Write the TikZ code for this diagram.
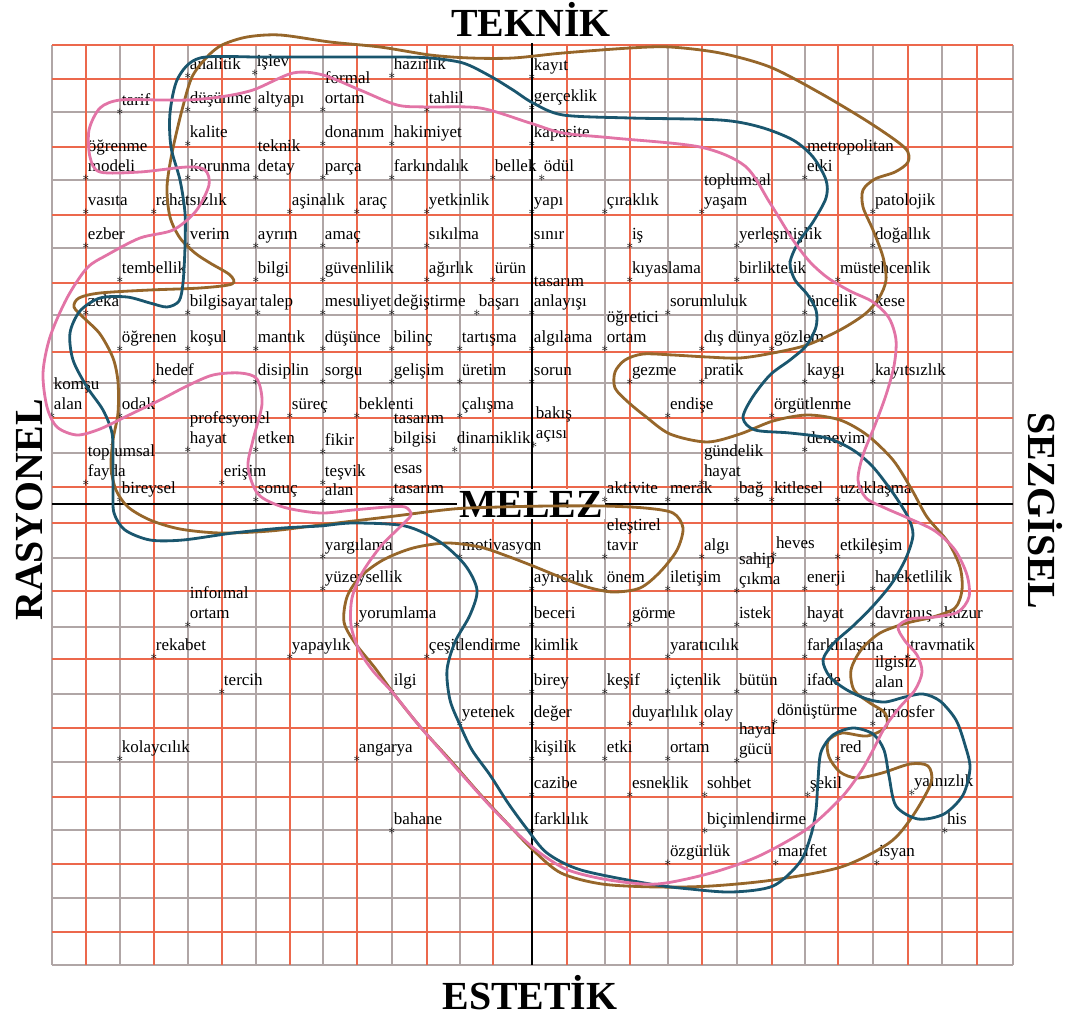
\documentclass[tikz,border=0pt]{standalone}
\usepackage{fontspec}
\setmainfont{Liberation Serif}
\usepackage{tikz}
\definecolor{brownline}{RGB}{150,102,42}
\definecolor{tealline}{RGB}{26,86,110}
\definecolor{pinkline}{RGB}{226,116,166}
\definecolor{gridred}{RGB}{236,104,76}
\definecolor{gridgray}{RGB}{176,166,166}

\begin{document}
\begin{tikzpicture}[x=0.03cm, y=-0.03cm,
		gg/.style={gridgray, line width=1pt},
		gr/.style={gridred, line width=0.9pt},
		axis/.style={black, line width=2.2pt},
		bc/.style={brownline, line width=2.4pt},
		tc/.style={tealline, line width=2.4pt},
		pc/.style={pinkline, line width=2.4pt},
		astk/.style={inner sep=0pt, font=\fontsize{12}{12}\selectfont},
		wd/.style={anchor=south west, inner sep=0pt, xshift=1.5pt, align=left, font=\fontsize{14.5}{17}\selectfont},
		pole/.style={font=\fontsize{34}{40}\selectfont\bfseries, inner sep=0pt}]
		
		\useasboundingbox (0,0) rectangle (1067,1017);
		
		\foreach \gx in {52,120,188,256,323,392,460,532,605,668,737,805,873,942,1013}
		\draw[gg] (\gx,45) -- (\gx,965);
		\foreach \gy in {45,112,180,248,315,383,453,558,627,694,762,830,898,965}
		\draw[gg] (52,\gy) -- (1013,\gy);
		\foreach \gx in {86,154,222,290,357,427,493,567,630,702,772,838,908,977}
		\draw[gr] (\gx,45) -- (\gx,965);
		\foreach \gy in {45,79,147,215,283,352,418,487,523,591,659,728,797,864,932}
		\draw[gr] (52,\gy) -- (1013,\gy);
		
		\coordinate (top) at (532,43);
		\coordinate (bot) at (532,965);
		\coordinate (lft) at (52,504);
		\coordinate (rgt) at (1013,504);
		\draw[axis] (top) -- (bot);
		\draw[axis] (lft) -- (rgt);
		
		\node[pole, anchor=base] (tek) at (531,37) {TEKNİK};
		\node[pole, anchor=base] (est) at (530,1009) {ESTETİK};
		\node[pole, anchor=base, rotate=90] (ras) at (42,510) {RASYONEL};
		\node[pole, anchor=base, rotate=-90] (sez) at (1028,511) {SEZGİSEL};
		\node[pole, anchor=base, fill=white, inner sep=2pt] (mel) at (531,517) {MELEZ};
		
		\foreach \x/\y/\lbl [count=\i] in {
			188/76/analitik, 255/73/işlev, 392/76/hazırlık, 532/77/kayıt,
			120/112/tarif, 188/110/düşünme, 256/110/altyapı, 323/110/formal\\ortam, 427/110/tahlil, 532/108/gerçeklik,
			188/144/kalite, 323/144/donanım, 392/144/hakimiyet, 532/144/kapasite,
			86/178/öğrenme\\modeli, 188/178/korunma, 256/178/teknik\\detay, 323/178/parça, 392/178/farkındalık, 493/178/bellek, 542/178/ödül, 805/178/metropolitan\\etki,
			86/212/vasıta, 154/212/rahatsızlık, 290/212/aşinalık, 357/212/araç, 427/212/yetkinlik, 532/212/yapı, 605/212/çıraklık, 702/212/toplumsal\\yaşam, 873/212/patolojik,
			86/246/ezber, 188/246/verim, 256/246/ayrım, 323/246/amaç, 427/246/sıkılma, 532/246/sınır, 630/246/iş, 737/246/yerleşmişlik, 873/246/doğallık,
			120/280/tembellik, 256/280/bilgi, 323/280/güvenlilik, 427/280/ağırlık, 493/280/ürün, 630/280/kıyaslama, 737/280/birliktelik, 838/280/müstehcenlik,
			86/313/zeka, 188/313/bilgisayar, 258/313/talep, 323/313/mesuliyet, 392/313/değiştirme, 477/313/başarı, 532/313/tasarım\\anlayışı, 668/313/sorumluluk, 805/313/öncelik, 873/313/kese,
			120/349/öğrenen, 188/349/koşul, 256/349/mantık, 323/349/düşünce, 392/349/bilinç, 460/349/tartışma, 532/349/algılama, 605/349/öğretici\\ortam, 702/349/dış dünya, 772/349/gözlem,
			154/382/hedef, 256/382/disiplin, 323/382/sorgu, 392/382/gelişim, 460/382/üretim, 532/382/sorun, 630/382/gezme, 702/382/pratik, 805/382/kaygı, 873/382/kayıtsızlık,
			52/416/komşu\\alan, 120/416/odak, 290/416/süreç, 357/416/beklenti, 460/416/çalışma, 668/416/endişe, 772/416/örgütlenme,
			188/450/profesyonel\\hayat, 256/450/etken, 323/452/fikir, 392/450/tasarım\\bilgisi, 455/450/dinamiklik, 534/445/bakış\\açısı, 805/450/deneyim,
			86/483/toplumsal\\fayda, 222/483/erişim, 323/483/teşvik, 702/483/gündelik\\hayat,
			120/500/bireysel, 256/500/sonuç, 323/502/alan, 392/500/esas\\tasarım, 605/500/aktivite, 668/500/merak, 737/500/bağ, 772/500/kitlesel, 838/500/uzaklaşma,
			323/557/yargılama, 460/557/motivasyon, 605/557/eleştirel\\tavır, 702/557/algı, 774/555/heves, 838/557/etkileşim,
			323/589/yüzeysellik, 532/589/ayrıcalık, 605/589/önem, 668/589/iletişim, 737/591/sahip\\çıkma, 805/589/enerji, 873/589/hareketlilik,
			188/625/informal\\ortam, 357/625/yorumlama, 532/625/beceri, 630/625/görme, 737/625/istek, 805/625/hayat, 873/625/davranış, 942/625/huzur,
			154/657/rekabet, 290/657/yapaylık, 427/657/çeşitlendirme, 532/657/kimlik, 668/657/yaratıcılık, 805/657/farklılaşma, 908/657/travmatik,
			222/692/tercih, 392/692/ilgi, 532/692/birey, 605/692/keşif, 668/692/içtenlik, 737/692/bütün, 805/692/ifade, 873/694/ilgisiz\\alan,
			460/724/yetenek, 532/724/değer, 630/724/duyarlılık, 702/724/olay, 775/722/dönüştürme, 873/724/atmosfer,
			120/759/kolaycılık, 357/759/angarya, 532/759/kişilik, 605/759/etki, 668/759/ortam, 737/761/hayal\\gücü, 838/759/red,
			532/795/cazibe, 630/795/esneklik, 705/795/sohbet, 808/795/şekil, 912/793/yalnızlık,
			392/831/bahane, 532/831/farklılık, 705/831/biçimlendirme, 945/831/his,
			668/863/özgürlük, 776/863/marifet, 877/863/isyan}{
			\node[astk] (s\i) at (\x,\y) {$\ast$};
			\node[wd] (w\i) at (s\i) {\lbl\strut};
		}
		
		\draw[bc] plot[smooth cycle, tension=0.5] coordinates {
			(207,57)(222,45)(247,37)(280,35)(330,42)(380,47)(430,55)(470,58)
			(513,58)(563,53)(630,48)(670,47)(720,53)(770,67)(820,93)(870,123)
			(905,148)(908,162)(895,172)(875,179)(863,190)(863,207)(873,230)(883,257)
			(886,280)(879,298)(865,314)(840,330)(807,345)(773,353)(740,358)(707,357)
			(673,355)(643,354)(625,360)(615,372)(615,388)(628,402)(645,416)(670,434)
			(707,442)(740,434)(773,421)(807,415)(840,420)(867,435)(893,460)(912,490)
			(927,517)(948,542)(960,567)(962,590)(955,608)(933,617)(907,623)(880,633)
			(861,650)(851,670)(854,690)(870,703)(885,713)(886,727)(867,736)(842,733)
			(828,741)(829,757)(840,772)(857,778)(882,773)(910,764)(928,766)(931,783)
			(912,817)(889,843)(841,867)(773,880)(711,886)(657,887)(602,884)(561,873)
			(533,850)(506,822)(479,793)(452,762)(423,730)(397,698)(375,668)(355,643)
			(344,622)(347,597)(360,577)(383,560)(413,548)(447,543)(480,547)(507,556)
			(533,566)(560,577)(587,587)(613,592)(640,588)(660,572)(677,550)(683,528)
			(673,513)(645,508)(603,506)(550,506)(500,507)(453,509)(387,517)(320,525)
			(270,531)(220,533)(180,529)(150,520)(128,507)(116,490)(111,467)(113,440)
			(118,413)(118,382)(113,358)(100,334)(84,318)(74,307)(79,298)(100,293)
			(150,290)(200,288)(232,284)(230,275)(210,263)(195,253)(180,238)(170,217)
			(167,187)(172,153)(182,110)(192,77)
		};
		
		\draw[tc] plot[smooth cycle, tension=0.5] coordinates {
			(200,58)(260,57)(330,57)(397,57)(430,58)(463,63)(490,76)(513,90)
			(533,103)(563,115)(630,118)(720,120)(760,127)(793,140)(813,157)(826,180)
			(826,198)(813,222)(798,243)(790,263)(795,280)(807,294)(816,310)(816,327)
			(806,346)(790,360)(770,375)(752,398)(743,418)(755,430)(790,433)(827,438)
			(853,450)(873,467)(893,493)(908,517)(913,535)(906,558)(892,583)(873,606)
			(853,626)(834,643)(823,660)(830,677)(847,690)(867,699)(885,702)(905,697)
			(923,694)(940,701)(956,720)(965,745)(970,768)(963,795)(944,814)(918,819)
			(896,806)(889,776)(884,750)(873,734)(853,728)(833,735)(821,752)(818,780)
			(816,810)(811,835)(800,862)(773,886)(732,892)(690,889)(650,884)(581,870)
			(547,853)(527,829)(508,803)(490,775)(472,750)(460,725)(450,700)(447,670)
			(455,642)(470,615)(477,590)(465,565)(440,542)(405,526)(353,523)(320,526)
			(283,528)(233,533)(183,540)(150,540)(125,530)(114,513)(113,490)(113,460)
			(112,433)(103,410)(87,387)(73,360)(70,333)(80,311)(100,298)(127,297)
			(150,303)(167,307)(179,301)(183,283)(185,247)(185,213)(180,180)(171,147)
			(170,113)(178,78)
		};
		
		\draw[pc] plot[smooth cycle, tension=0.5] coordinates {
			(120,100)(160,100)(188,100)(220,97)(253,90)(293,73)(323,75)(360,90)
			(397,105)(427,107)(480,108)(530,123)(563,133)(613,138)(700,147)(745,166)
			(770,203)(793,240)(810,262)(828,278)(850,291)(873,302)(889,318)(896,340)
			(894,366)(886,395)(875,425)(863,455)(858,480)(866,498)(885,508)(908,518)
			(935,531)(955,550)(967,575)(969,597)(958,612)(935,617)(910,619)(898,627)
			(905,641)(917,655)(922,672)(915,690)(900,707)(885,727)(872,752)(860,773)
			(841,798)(807,829)(759,856)(711,873)(657,884)(609,880)(568,870)(540,853)
			(520,836)(492,808)(465,778)(443,753)(417,723)(393,693)(373,671)(359,650)
			(351,625)(352,598)(362,573)(381,546)(400,527)(411,515)(405,507)(387,507)
			(353,510)(320,513)(283,507)(258,494)(248,467)(253,440)(262,404)(257,379)
			(240,373)(213,375)(187,386)(160,400)(127,416)(100,429)(77,435)(57,427)
			(47,407)(43,373)(50,337)(67,298)(87,268)(107,255)(140,238)(173,230)
			(196,211)(209,185)(205,170)(187,167)(140,172)(100,172)(90,157)(89,130)
			(100,108)
		};
		
	\end{tikzpicture}
\end{document}
